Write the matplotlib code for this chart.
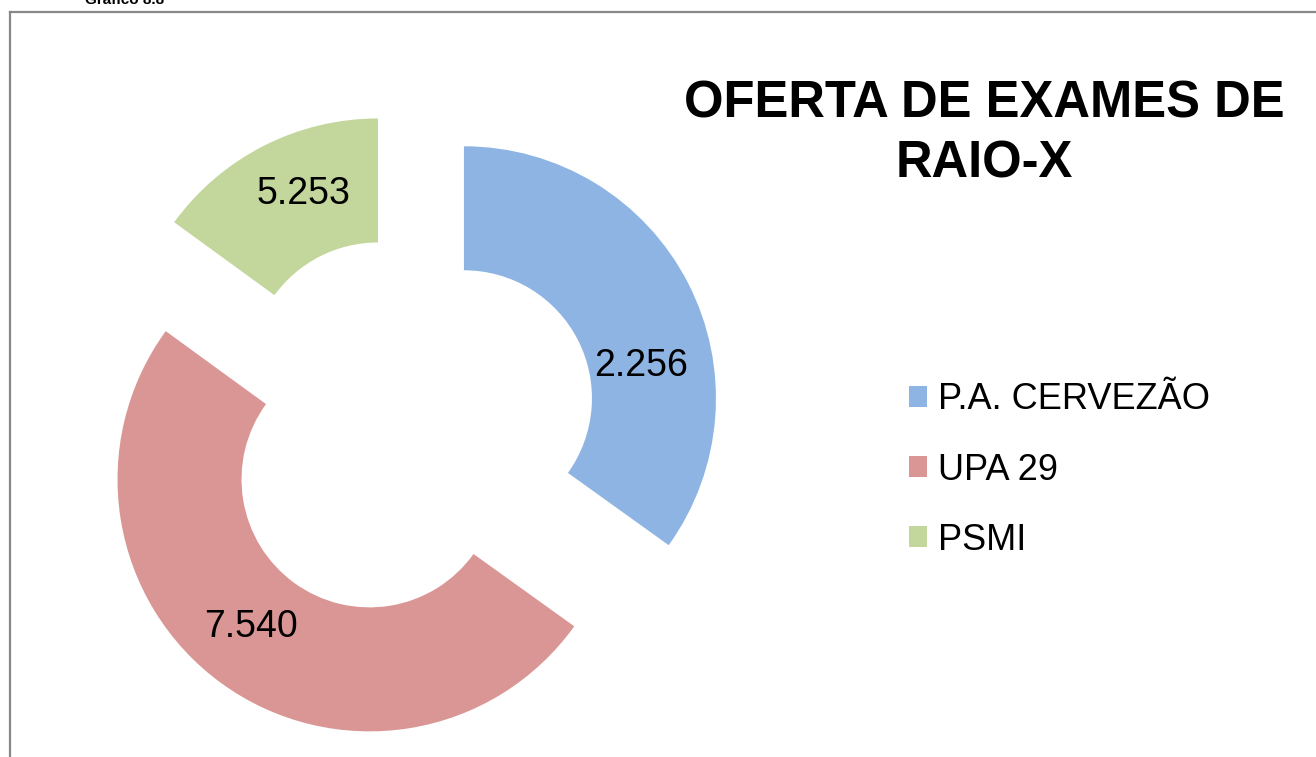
import matplotlib
matplotlib.use("Agg")
import matplotlib.pyplot as plt
from matplotlib.lines import Line2D
import numpy as np

# ---- data ----
categories = ["P.A. CERVEZÃO", "UPA 29", "PSMI"]
wedge_sizes = [5253, 7540, 2256]          # sizes of drawn rings (as in the reference)
label_texts = ["2.256", "7.540", "5.253"]  # data labels shown on the rings
colors = ["#8EB4E3", "#D99694", "#C3D69B"]
title = "OFERTA DE EXAMES DE\nRAIO-X"

plt.rcParams['font.family'] = ['Liberation Sans', 'DejaVu Sans']

W, H = 1316, 757
fig = plt.figure(figsize=(W / 100, H / 100), dpi=100)
ax = fig.add_axes([0, 0, 1, 1])

R = 252
ring = 124
cx, cy = 407, H - 427.5
expl = 64

wedges, _ = ax.pie(wedge_sizes, colors=colors, startangle=90, counterclock=False,
                   radius=R, center=(cx, cy), explode=[expl] * len(wedge_sizes),
                   wedgeprops=dict(width=ring, linewidth=0))
ax.set_xlim(0, W)
ax.set_ylim(0, H)
ax.set_aspect('equal')
ax.axis('off')

# data labels
shift = [-17, -3, -4]
lab_r = [180, 189, 192]
for w, txt, s, r in zip(wedges, label_texts, shift, lab_r):
    ang = np.deg2rad((w.theta1 + w.theta2) / 2 + s)
    x = w.center[0] + r * np.cos(ang)
    y = w.center[1] + r * np.sin(ang)
    ax.text(x, y, txt, ha='center', va='center', fontsize=27, color='black')

# title
ax.text(984, H - 134, title, ha='center', va='center', fontsize=36.5,
        fontweight='bold', linespacing=1.3, color='black')

# legend
leg = ax.legend(wedges, categories, loc='center left',
                bbox_to_anchor=(909 / W, (H - 470) / H), frameon=False,
                fontsize=26, handlelength=0.5, handleheight=0.5,
                handletextpad=0.3, labelspacing=0.97, borderpad=0, borderaxespad=0)

# frame lines
fig.add_artist(Line2D([9.5 / W, 1.0], [1 - 12 / H, 1 - 12 / H], color='#888888', lw=1.6))
fig.add_artist(Line2D([9.5 / W, 9.5 / W], [0, 1 - 12 / H], color='#888888', lw=1.6))

# clipped caption at the very top (cut off in the reference as well)
ax.text(85, H - 4, "Gráfico 8.8", ha='left', va='baseline', fontsize=11,
        fontweight='bold', color='black')

fig.savefig("out.png", dpi=100)
